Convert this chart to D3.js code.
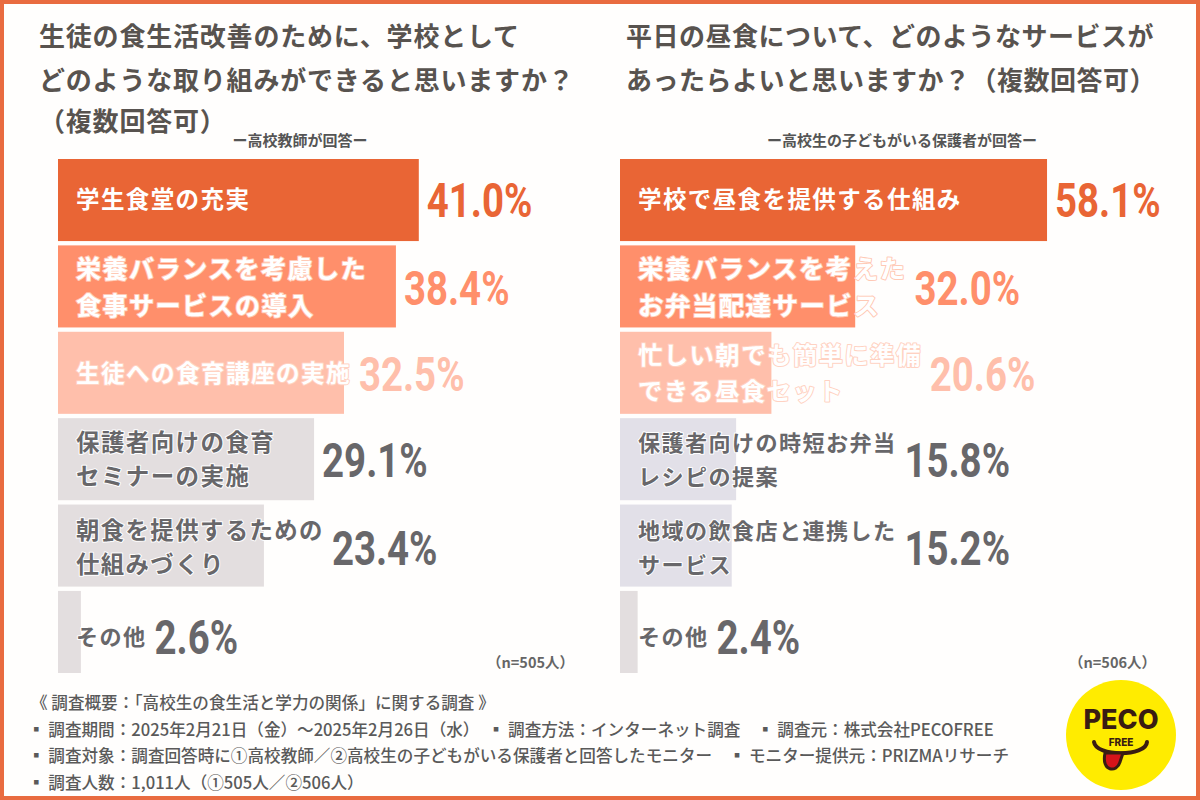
<!DOCTYPE html>
<html>
<head>
<meta charset="utf-8">
<style>
    html, body { margin: 0; padding: 0; background: #fff; }
    svg { display: block; }
    text { font-family: "Noto Sans CJK JP", sans-serif; }
    .title { font-size: 26px; font-weight: 700; fill: #58534f; }
    .sub { font-size: 15px; font-weight: 700; fill: #555; text-anchor: middle; }
    .label { font-weight: 700; paint-order: stroke; stroke-linejoin: round; }
    .value { font-family: Roboto, "Liberation Sans Narrow", sans-serif; font-size: 48px; font-weight: 700; }
    .nlabel { font-size: 14.5px; font-weight: 700; fill: #666; }
    .note { font-size: 16.6px; font-weight: 500; fill: #5a5a5a; }
</style>
</head>
<body>
<svg width="1200" height="800"></svg>
<script src="https://d3js.org/d3.v7.min.js"></script>
<script>
    const leftTitle = ["生徒の食生活改善のために、学校として", "どのような取り組みができると思いますか？", "（複数回答可）"];
    const rightTitle = ["平日の昼食について、どのようなサービスが", "あったらよいと思いますか？（複数回答可）"];
    const leftSub = "ー高校教師が回答ー";
    const rightSub = "ー高校生の子どもがいる保護者が回答ー";

    const leftLabels = ["学生食堂の充実", "栄養バランスを考慮した\n食事サービスの導入", "生徒への食育講座の実施", "保護者向けの食育\nセミナーの実施", "朝食を提供するための\n仕組みづくり", "その他"];
    const leftValues = [41.0, 38.4, 32.5, 29.1, 23.4, 2.6];
    const rightLabels = ["学校で昼食を提供する仕組み", "栄養バランスを考えた\nお弁当配達サービス", "忙しい朝でも簡単に準備\nできる昼食セット", "保護者向けの時短お弁当\nレシピの提案", "地域の飲食店と連携した\nサービス", "その他"];
    const rightValues = [58.1, 32.0, 20.6, 15.8, 15.2, 2.4];

    const barColors = ["#e96535", "#ff8f6b", "#ffbfab", "#e3dedf", "#e3dedf", "#e3dedf"];
    const rightBarColors = ["#e96535", "#ff8f6b", "#ffbfab", "#e2e0e8", "#e2e0e8", "#e3dedf"];
    const valueColors = ["#e96535", "#ff8f6b", "#ffbfab", "#68676a", "#68676a", "#68676a"];
    const haloColors = ["none", "#ffc9b5", "#ffd2c2", "#fff", "#fff", "#fff"];
    const labelColors = ["#fff", "#fff", "#fff", "#68676a", "#68676a", "#68676a"];
    // character pitch and line gap differ row by row in the original
    const leftPitch = [24.9, 26.5, 25, 24.9, 24.8, 23.5];
    const rightPitch = [24.9, 26.9, 25.8, 23.5, 23.5, 23.5];
    const lineGaps = [0, 37, 36, 34, 34, 0];
    const rowShift = [0, 2, 1, 1, 2, 5];

    const notes = [
        "《 調査概要：「高校生の食生活と学力の関係」に関する調査 》",
        "▪ 調査期間：2025年2月21日（金）～2025年2月26日（水）　▪ 調査方法：インターネット調査　▪ 調査元：株式会社PECOFREE",
        "▪ 調査対象：調査回答時に①高校教師／②高校生の子どもがいる保護者と回答したモニター　▪ モニター提供元：PRIZMAリサーチ",
        "▪ 調査人数：1,011人（①505人／②506人）"
    ];

    const svg = d3.select("svg");

    svg.append("rect").attr("x", 2).attr("y", 2).attr("width", 1196).attr("height", 796)
        .attr("fill", "#fffefd").attr("stroke", "#e96b40").attr("stroke-width", 4);

    function drawTitle(lines, x, ys, spacing) {
        svg.append("g").selectAll("text").data(lines).join("text")
            .attr("class", "title")
            .attr("x", x)
            .attr("y", (d, i) => ys[i])
            .style("letter-spacing", spacing + "px")
            .text(d => d);
    }
    drawTitle(leftTitle, 39, [46, 90, 131], 0.8);
    drawTitle(rightTitle, 626, [46, 90], 0.5);

    svg.append("text").attr("class", "sub").attr("x", 300).attr("y", 146).text(leftSub);
    svg.append("text").attr("class", "sub").attr("x", 902).attr("y", 146).text(rightSub);

    const y = d3.scaleBand().domain(d3.range(6)).range([159, 673]).paddingInner(0.05).paddingOuter(0);

    function drawPanel(labels, values, colors, pitch, x0, pxPerPct) {
        const x = d3.scaleLinear().domain([0, 100]).range([x0, x0 + pxPerPct * 100]);
        const g = svg.append("g");

        g.selectAll("rect").data(values).join("rect")
            .attr("x", x0)
            .attr("y", (d, i) => y(i))
            .attr("width", d => x(d) - x0)
            .attr("height", y.bandwidth())
            .attr("fill", (d, i) => colors[i]);

        labels.forEach((label, i) => {
            const lines = label.split("\n");
            const mid = y(i) + y.bandwidth() / 2 + rowShift[i];
            let labelEnd = 0;
            lines.forEach((line, j) => {
                const t = g.append("text")
                    .attr("class", "label")
                    .attr("x", x0 + 18)
                    .attr("y", mid + 8 + (j - (lines.length - 1) / 2) * lineGaps[i])
                    .attr("fill", labelColors[i])
                    .attr("stroke", haloColors[i])
                    .attr("stroke-width", haloColors[i] === "none" ? 0 : 2)
                    .style("font-size", (pitch[i] - 1.4) + "px")
                    .style("letter-spacing", "1.4px")
                    .text(line);
                labelEnd = Math.max(labelEnd, x0 + 18 + t.node().getComputedTextLength());
            });
            // value sits after whichever is longer, the bar or its label
            const vx = Math.max(x(values[i]), labelEnd) + 8;
            g.append("text")
                .attr("class", "value")
                .attr("transform", `translate(${vx},${mid + 17}) scale(0.8,1)`)
                .attr("fill", valueColors[i])
                .text(d3.format(".1f")(values[i]) + "%");
        });
    }
    drawPanel(leftLabels, leftValues, barColors, leftPitch, 58, 8.8);
    drawPanel(rightLabels, rightValues, rightBarColors, rightPitch, 620, 7.35);

    svg.append("text").attr("class", "nlabel").attr("x", 487).attr("y", 668).text("（n=505人）");
    svg.append("text").attr("class", "nlabel").attr("x", 1069).attr("y", 668).text("（n=506人）");

    svg.append("g").selectAll("text").data(notes).join("text")
        .attr("class", "note")
        .attr("x", d => d.startsWith("▪") ? 28 : 31)
        .attr("y", (d, i) => 709 + i * 26.7)
        .text(d => d);

    // logo
    const logo = svg.append("g").attr("transform", "translate(1121,735)");
    logo.append("circle").attr("r", 55).attr("fill", "#ffec00");
    logo.append("text").attr("y", -6).attr("text-anchor", "middle")
        .style("font-family", "Inter, sans-serif").style("font-size", "27px").style("font-weight", 800)
        .attr("fill", "#3a1c12").text("PECO");
    logo.append("text").attr("y", 11).attr("text-anchor", "middle")
        .style("font-family", "Inter, sans-serif").style("font-size", "10px").style("font-weight", 800)
        .attr("fill", "#3a1c12").text("FREE");
    logo.append("path").attr("d", "M-27,7 C-25,22 25,22 26,7").attr("fill", "none")
        .attr("stroke", "#3a1c12").attr("stroke-width", 4).attr("stroke-linecap", "round");
    logo.append("path").attr("d", "M-16,18 C-20,37 -4,38 -1,27 C0,24 1,21 2,18 Z")
        .attr("fill", "#d7141a").attr("stroke", "#3a1c12").attr("stroke-width", 3);
</script>
</body>
</html>
